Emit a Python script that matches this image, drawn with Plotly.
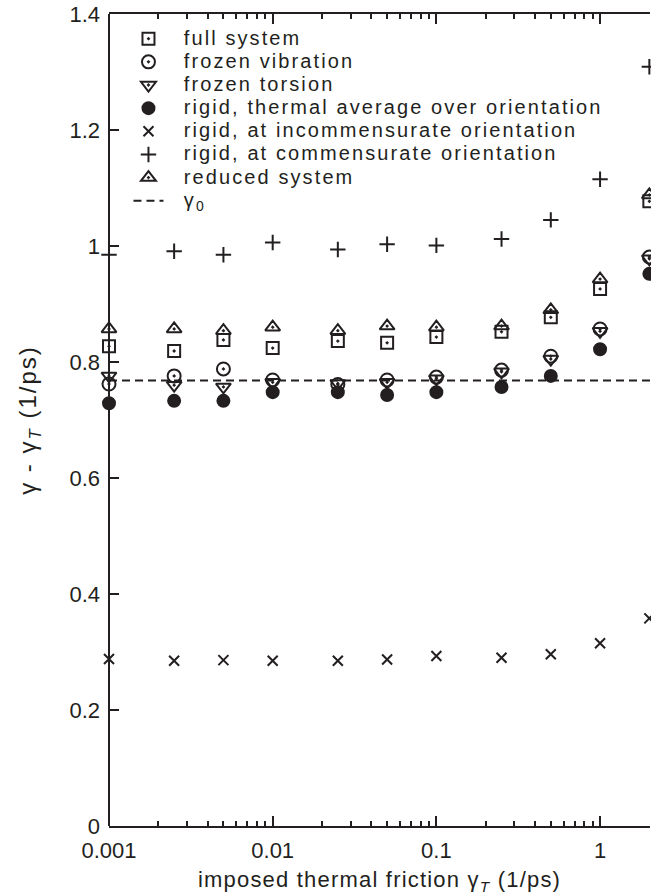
import plotly.graph_objects as go

# ---------------- data ----------------
gamma_T = [0.001, 0.0025, 0.005, 0.01, 0.025, 0.05, 0.1, 0.25, 0.5, 1, 2]

full_system = [0.827, 0.819, 0.838, 0.824, 0.836, 0.833, 0.843, 0.852, 0.877, 0.926, 1.077]
frozen_vibration = [0.762, 0.776, 0.788, 0.769, 0.761, 0.769, 0.774, 0.786, 0.810, 0.857, 0.981]
frozen_torsion = [0.776, 0.760, 0.757, 0.765, 0.763, 0.765, 0.771, 0.783, 0.805, 0.853, 0.978]
rigid_thermal_avg = [0.729, 0.733, 0.733, 0.748, 0.748, 0.743, 0.748, 0.757, 0.776, 0.822, 0.952]
rigid_incommensurate = [0.288, 0.285, 0.286, 0.285, 0.285, 0.287, 0.293, 0.290, 0.296, 0.315, 0.358]
rigid_commensurate = [0.985, 0.991, 0.985, 1.006, 0.994, 1.003, 1.001, 1.012, 1.045, 1.115, 1.309]
reduced_system = [0.857, 0.857, 0.854, 0.860, 0.854, 0.862, 0.860, 0.862, 0.890, 0.943, 1.088]
gamma0 = 0.768

x_tickvals = [0.001, 0.01, 0.1, 1]
x_ticktext = ["0.001", "0.01", "0.1", "1"]
x_minor_tickvals = [0.002, 0.003, 0.004, 0.005, 0.006, 0.007, 0.008, 0.009,
                    0.02, 0.03, 0.04, 0.05, 0.06, 0.07, 0.08, 0.09,
                    0.2, 0.3, 0.4, 0.5, 0.6, 0.7, 0.8, 0.9]
y_tickvals = [0, 0.2, 0.4, 0.6, 0.8, 1.0, 1.2, 1.4]
y_ticktext = ["0", "0.2", "0.4", "0.6", "0.8", "1", "1.2", "1.4"]

# ---------------- styling ----------------
INK = "#231f20"
FONT = "Liberation Sans, Arial, Helvetica, sans-serif"
LEG_SPAN = '<span style="font-size:20px;letter-spacing:2.1px">{}</span>'
PAD = "\u00a0\u00a0"

series = [
    ("full system", full_system, "square-open-dot", 12),
    ("frozen vibration", frozen_vibration, "circle-open-dot", 13),
    ("frozen torsion", frozen_torsion, "triangle-down-open-dot", 13),
    ("rigid, thermal average over orientation", rigid_thermal_avg, "circle", 12),
    ("rigid, at incommensurate orientation", rigid_incommensurate, "x-thin-open", 10),
    ("rigid, at commensurate orientation", rigid_commensurate, "cross-thin-open", 11),
    ("reduced system", reduced_system, "triangle-up-open-dot", 13),
]

fig = go.Figure()
for name, vals, sym, size in series:
    fig.add_trace(go.Scatter(
        x=gamma_T, y=vals, mode="markers",
        name=LEG_SPAN.format(PAD + name),
        marker=dict(symbol=sym, size=size, color=INK,
                    line=dict(color=INK, width=2)),
        cliponaxis=False,
    ))

fig.update_layout(
    template="none",
    width=651, height=895,
    margin=dict(l=109, r=1, t=14, b=69, autoexpand=False),
    paper_bgcolor="white", plot_bgcolor="white",
    font=dict(family=FONT, size=22, color=INK),
    showlegend=True,
    hovermode=False,
    legend=dict(x=0.036, y=0.99, xanchor="left", yanchor="top",
                bgcolor="rgba(0,0,0,0)", borderwidth=0,
                font=dict(size=15.5, family=FONT, color=INK),
                itemwidth=30, tracegroupgap=0, itemclick=False),
    shapes=[
        dict(type="line", xref="paper", yref="y", x0=0, x1=1,
             y0=gamma0, y1=gamma0,
             line=dict(color=INK, width=2, dash="8px,5px"),
             showlegend=True, legendrank=2000,
             name=LEG_SPAN.format(PAD + "γ<sub>0</sub>")),
        dict(type="line", xref="paper", yref="paper", x0=0, x1=0, y0=0, y1=1,
             line=dict(color=INK, width=2), layer="above"),
    ],
    # right-hand ticks only (the right frame line lies outside the picture)
    yaxis2=dict(overlaying="y", side="right", range=[0, 1.4],
                tickvals=y_tickvals, ticks="inside", ticklen=10,
                tickwidth=2, tickcolor=INK, showticklabels=False,
                showline=False, showgrid=False, zeroline=False,
                automargin=False),
)

fig.update_xaxes(
    type="log", range=[-3, 0.305], automargin=False,
    showline=True, linecolor=INK, linewidth=2, mirror="ticks",
    ticks="inside", ticklen=10, tickwidth=2, tickcolor=INK,
    tickvals=x_tickvals, ticktext=x_ticktext,
    tickfont=dict(size=22, family=FONT, color=INK),
    ticklabelstandoff=4, ticklabeloverflow="allow",
    minor=dict(tickvals=x_minor_tickvals, ticks="inside", ticklen=5,
               tickwidth=2, tickcolor=INK, showgrid=False),
    showgrid=False, zeroline=False, showspikes=False,
    title=dict(text='<span style="letter-spacing:1.2px">imposed thermal friction '
                    'γ<sub><i>T</i></sub> (1/ps)</span>',
               font=dict(size=22, family=FONT, color=INK), standoff=13),
)
fig.layout.yaxis.update(
    range=[0, 1.4], automargin=False, showline=False, mirror=False,
    ticks="inside", ticklen=10, tickwidth=2, tickcolor=INK,
    tickvals=y_tickvals, ticktext=y_ticktext,
    tickfont=dict(size=22, family=FONT, color=INK),
    ticklabelstandoff=8, ticklabeloverflow="allow",
    showgrid=False, zeroline=False, showspikes=False,
    title=dict(text='<span style="letter-spacing:2px">γ - γ<sub><i>T</i></sub> (1/ps)</span>',
               font=dict(size=24, family=FONT, color=INK), standoff=26),
)

# the browser's default 8px body margin would push the 651x895 figure off-page
fig.write_html("out.html",
               config={"staticPlot": True, "displayModeBar": False},
               post_script="document.body.style.margin='0';document.body.style.overflow='hidden';")
